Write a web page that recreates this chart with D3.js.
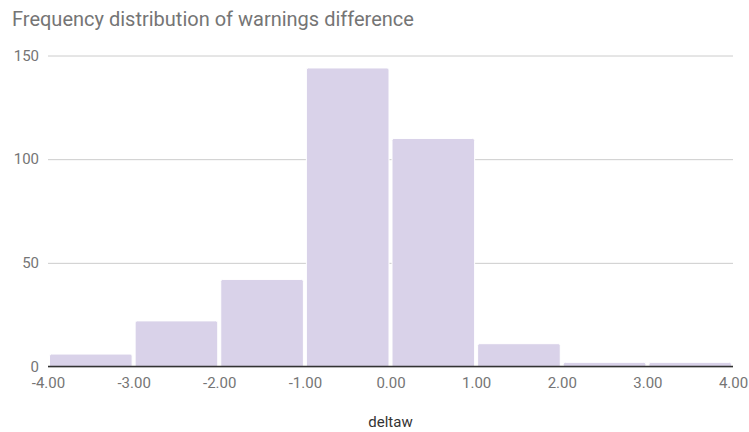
<!DOCTYPE html>
<html>
<head>
<meta charset="utf-8">
<script src="https://cdn.jsdelivr.net/npm/d3@7"></script>
<style>
  html, body { margin: 0; padding: 0; background: #fff; }
  svg { display: block; font-family: Roboto, "Noto Sans", sans-serif; }
</style>
</head>
<body>
<svg id="chart" width="749" height="432"></svg>
<script>
// Histogram bins of the warnings difference (deltaw)
const binStarts = [-4, -3, -2, -1, 0, 1, 2, 3];
const binWidth = 1;
const counts = [6, 22, 42, 144, 110, 11, 2, 2];
const xTicks = [-4, -3, -2, -1, 0, 1, 2, 3, 4];
const yTicks = [0, 50, 100, 150];

(function () {
  const svg = d3.select("#chart");
  const plotLeft = 48, plotRight = 733, plotTop = 55.5, plotBottom = 366.5;

  const x = d3.scaleLinear().domain([-4, 4]).range([plotLeft, plotRight]);
  const y = d3.scaleLinear().domain([0, 150]).range([plotBottom, plotTop]);

  // title
  svg.append("text")
    .attr("x", 12).attr("y", 26)
    .attr("font-size", 20).attr("fill", "#757575")
    .text("Frequency distribution of warnings difference");

  // horizontal gridlines
  const yAxis = d3.axisLeft(y).tickValues(yTicks).tickSize(-(plotRight - plotLeft)).tickPadding(9).tickFormat(d3.format("d"));
  const gy = svg.append("g").attr("transform", `translate(${plotLeft},0)`).call(yAxis);
  gy.select(".domain").remove();
  gy.selectAll(".tick line").attr("stroke", "#cccccc").attr("stroke-width", 1);
  gy.selectAll(".tick text").attr("font-size", 15).attr("fill", "#757575").attr("font-family", "Roboto, sans-serif");

  // bars with slightly rounded tops
  const r = 2;
  svg.append("g").selectAll("path")
    .data(binStarts.map((s, i) => ({ x0: s, x1: s + binWidth, v: counts[i] })))
    .join("path")
    .attr("fill", "#d9d2e9")
    .attr("stroke", "#ffffff")
    .attr("stroke-width", 1)
    .attr("d", d => {
      const x0 = x(d.x0) + 1.5, x1 = x(d.x1) - 1.5;
      const y0 = y(d.v), yb = y(0);
      return `M${x0},${yb} V${y0 + r} Q${x0},${y0} ${x0 + r},${y0} H${x1 - r} Q${x1},${y0} ${x1},${y0 + r} V${yb} Z`;
    });

  // baseline
  svg.append("line")
    .attr("x1", plotLeft).attr("x2", plotRight)
    .attr("y1", y(0)).attr("y2", y(0))
    .attr("stroke", "#333333").attr("stroke-width", 1.5);

  // x axis labels
  const xAxis = d3.axisBottom(x).tickValues(xTicks).tickSize(0).tickPadding(11).tickFormat(d3.format(".2f"));
  const gx = svg.append("g").attr("transform", `translate(0,${plotBottom})`).call(xAxis);
  gx.select(".domain").remove();
  gx.selectAll(".tick text").attr("font-size", 15).attr("fill", "#757575").attr("font-family", "Roboto, sans-serif")
    .text(d => d3.format(".2f")(d).replace("\u2212", "-"));

  // x axis title
  svg.append("text")
    .attr("x", (plotLeft + plotRight) / 2).attr("y", 427)
    .attr("text-anchor", "middle")
    .attr("font-size", 15).attr("fill", "#333333")
    .text("deltaw");
})();
</script>
</body>
</html>
